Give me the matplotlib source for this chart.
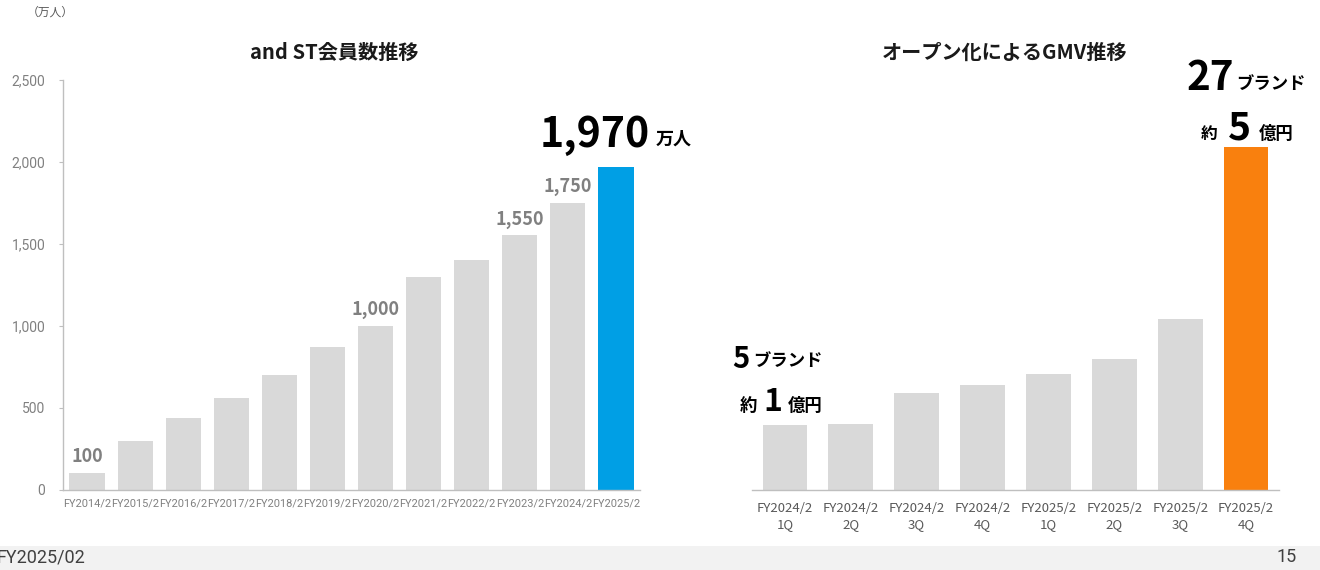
import matplotlib
matplotlib.use("Agg")
import matplotlib.pyplot as plt
from matplotlib.patches import Rectangle

plt.rcParams['font.family'] = ['Noto Sans CJK JP', 'DejaVu Sans']

# ---- data ----
member_years = ["FY2014/2", "FY2015/2", "FY2016/2", "FY2017/2", "FY2018/2", "FY2019/2",
                "FY2020/2", "FY2021/2", "FY2022/2", "FY2023/2", "FY2024/2", "FY2025/2"]
members = [100, 300, 440, 560, 700, 870, 1000, 1300, 1400, 1550, 1750, 1970]
member_labeled = ["100", None, None, None, None, None, "1,000", None, None, "1,550", "1,750", None]
member_yticks = [0, 500, 1000, 1500, 2000, 2500]
member_ytick_labels = ["0", "500", "1,000", "1,500", "2,000", "2,500"]

gmv_quarters = ["FY2024/2\n1Q", "FY2024/2\n2Q", "FY2024/2\n3Q", "FY2024/2\n4Q",
                "FY2025/2\n1Q", "FY2025/2\n2Q", "FY2025/2\n3Q", "FY2025/2\n4Q"]
gmv = [95, 96, 141, 153, 169, 191, 249, 500]  # 百万円 (approx., 4Q ≈ 5億円)

GRAY = "#d9d9d9"
BLUE = "#009fe5"
ORANGE = "#f9800e"
LABEL_GRAY = "#808080"
AXIS_GRAY = "#bfbfbf"

W, H = 1320, 570
fig = plt.figure(figsize=(W / 100, H / 100), dpi=100)

def fx(px):
    return px / W

def fy(py):
    return 1 - py / H

# ---- left chart ----
axL = fig.add_axes([fx(63), fy(489.7), fx(640) - fx(63), fy(79.7) - fy(489.7)])
xs = list(range(len(members)))
colors = [GRAY] * (len(members) - 1) + [BLUE]
axL.bar(xs, members, width=0.73, color=colors)
axL.set_xlim(-0.5, len(members) - 0.5)
axL.set_ylim(0, 2500)
axL.set_yticks(member_yticks)
axL.set_yticklabels(member_ytick_labels, family=['Roboto', 'DejaVu Sans'], fontsize=10, color=LABEL_GRAY)
axL.set_xticks(xs)
axL.set_xticklabels(member_years, family=['Roboto', 'DejaVu Sans'], fontsize=7.9, color=LABEL_GRAY)
axL.tick_params(axis='y', length=3.2, width=0.8, color=AXIS_GRAY, pad=9.5)
axL.tick_params(axis='x', length=0, pad=6)
for s in ['top', 'right']:
    axL.spines[s].set_visible(False)
for s in ['left', 'bottom']:
    axL.spines[s].set_color(AXIS_GRAY)
    axL.spines[s].set_linewidth(1.0)

for x, v, lab in zip(xs, members, member_labeled):
    if lab:
        axL.annotate(lab, xy=(x, v), xytext=(0, 5), textcoords='offset points',
                     ha='center', va='bottom', fontsize=13, fontweight='bold', color=LABEL_GRAY)

last = len(members) - 1
axL.annotate(f"{members[last]:,}", xy=(last, members[last]), xytext=(24, 14.5),
             textcoords='offset points', ha='right', va='baseline',
             fontsize=29.5, fontweight='bold', color='black', annotation_clip=False)
axL.annotate("万人", xy=(last, members[last]), xytext=(28.5, 15.5),
             textcoords='offset points', ha='left', va='baseline',
             fontsize=13, fontweight='bold', color='black', annotation_clip=False)

fig.text(fx(334), fy(52), "and ST会員数推移", ha='center', va='center',
         fontsize=14.5, fontweight='bold', color='#1a1a1a')
fig.text(fx(27), fy(12), "（万人）", ha='left', va='center', fontsize=8.5, color='#595959')

# ---- right chart ----
axR = fig.add_axes([fx(752), fy(489.7), fx(1279) - fx(752), fy(79.7) - fy(489.7)])
xr = list(range(len(gmv)))
rcolors = [GRAY] * (len(gmv) - 1) + [ORANGE]
axR.bar(xr, gmv, width=0.68, color=rcolors)
axR.set_xlim(-0.5, len(gmv) - 0.5)
axR.set_ylim(0, 598)
axR.set_yticks([])
axR.set_xticks(xr)
axR.set_xticklabels(gmv_quarters, fontsize=9.5, color='#595959', linespacing=1.3)
axR.tick_params(axis='x', length=0, pad=9)
for s in ['top', 'right', 'left']:
    axR.spines[s].set_visible(False)
axR.spines['bottom'].set_color(AXIS_GRAY)
axR.spines['bottom'].set_linewidth(1.0)

fig.text(fx(1005), fy(52), "オープン化によるGMV推移", ha='center', va='center',
         fontsize=14.5, fontweight='bold', color='#1a1a1a')

def ann(ax, text, x, y, dx, dy, ha, size):
    ax.annotate(text, xy=(x, y), xytext=(dx, dy), textcoords='offset points',
                ha=ha, va='baseline', fontsize=size, fontweight='bold', color='black',
                annotation_clip=False)

# first quarter annotations
ann(axR, "5", 0, gmv[0], -25.5, 41, 'right', 21)
ann(axR, "ブランド", 0, gmv[0], -23, 42, 'left', 12.5)
ann(axR, "約", 0, gmv[0], -20, 9.5, 'right', 12.5)
ann(axR, "1", 0, gmv[0], -8.5, 9.5, 'center', 23)
ann(axR, "億円", 0, gmv[0], 2.2, 9.5, 'left', 12.5)

# last quarter annotations
li = len(gmv) - 1
ann(axR, "27", li, gmv[li], -8.5, 41, 'right', 29)
ann(axR, "ブランド", li, gmv[li], -7, 42, 'left', 12.5)
ann(axR, "約", li, gmv[li], -20.5, 6, 'right', 12)
ann(axR, "5", li, gmv[li], -5, 5, 'center', 28)
ann(axR, "億円", li, gmv[li], 9.5, 6, 'left', 12.5)

# ---- footer ----
fig.patches.append(Rectangle((0, 0), 1, fy(546), transform=fig.transFigure,
                             facecolor='#f2f2f2', edgecolor='none', zorder=0))
fig.text(-0.003, fy(557), "FY2025/02", ha='left', va='center',
         family=['Roboto', 'DejaVu Sans'], fontsize=13, color='#404040')
fig.text(fx(1297), fy(557), "15", ha='right', va='center',
         family=['Roboto', 'DejaVu Sans'], fontsize=13, color='#404040')

fig.savefig("out.png", dpi=100)
